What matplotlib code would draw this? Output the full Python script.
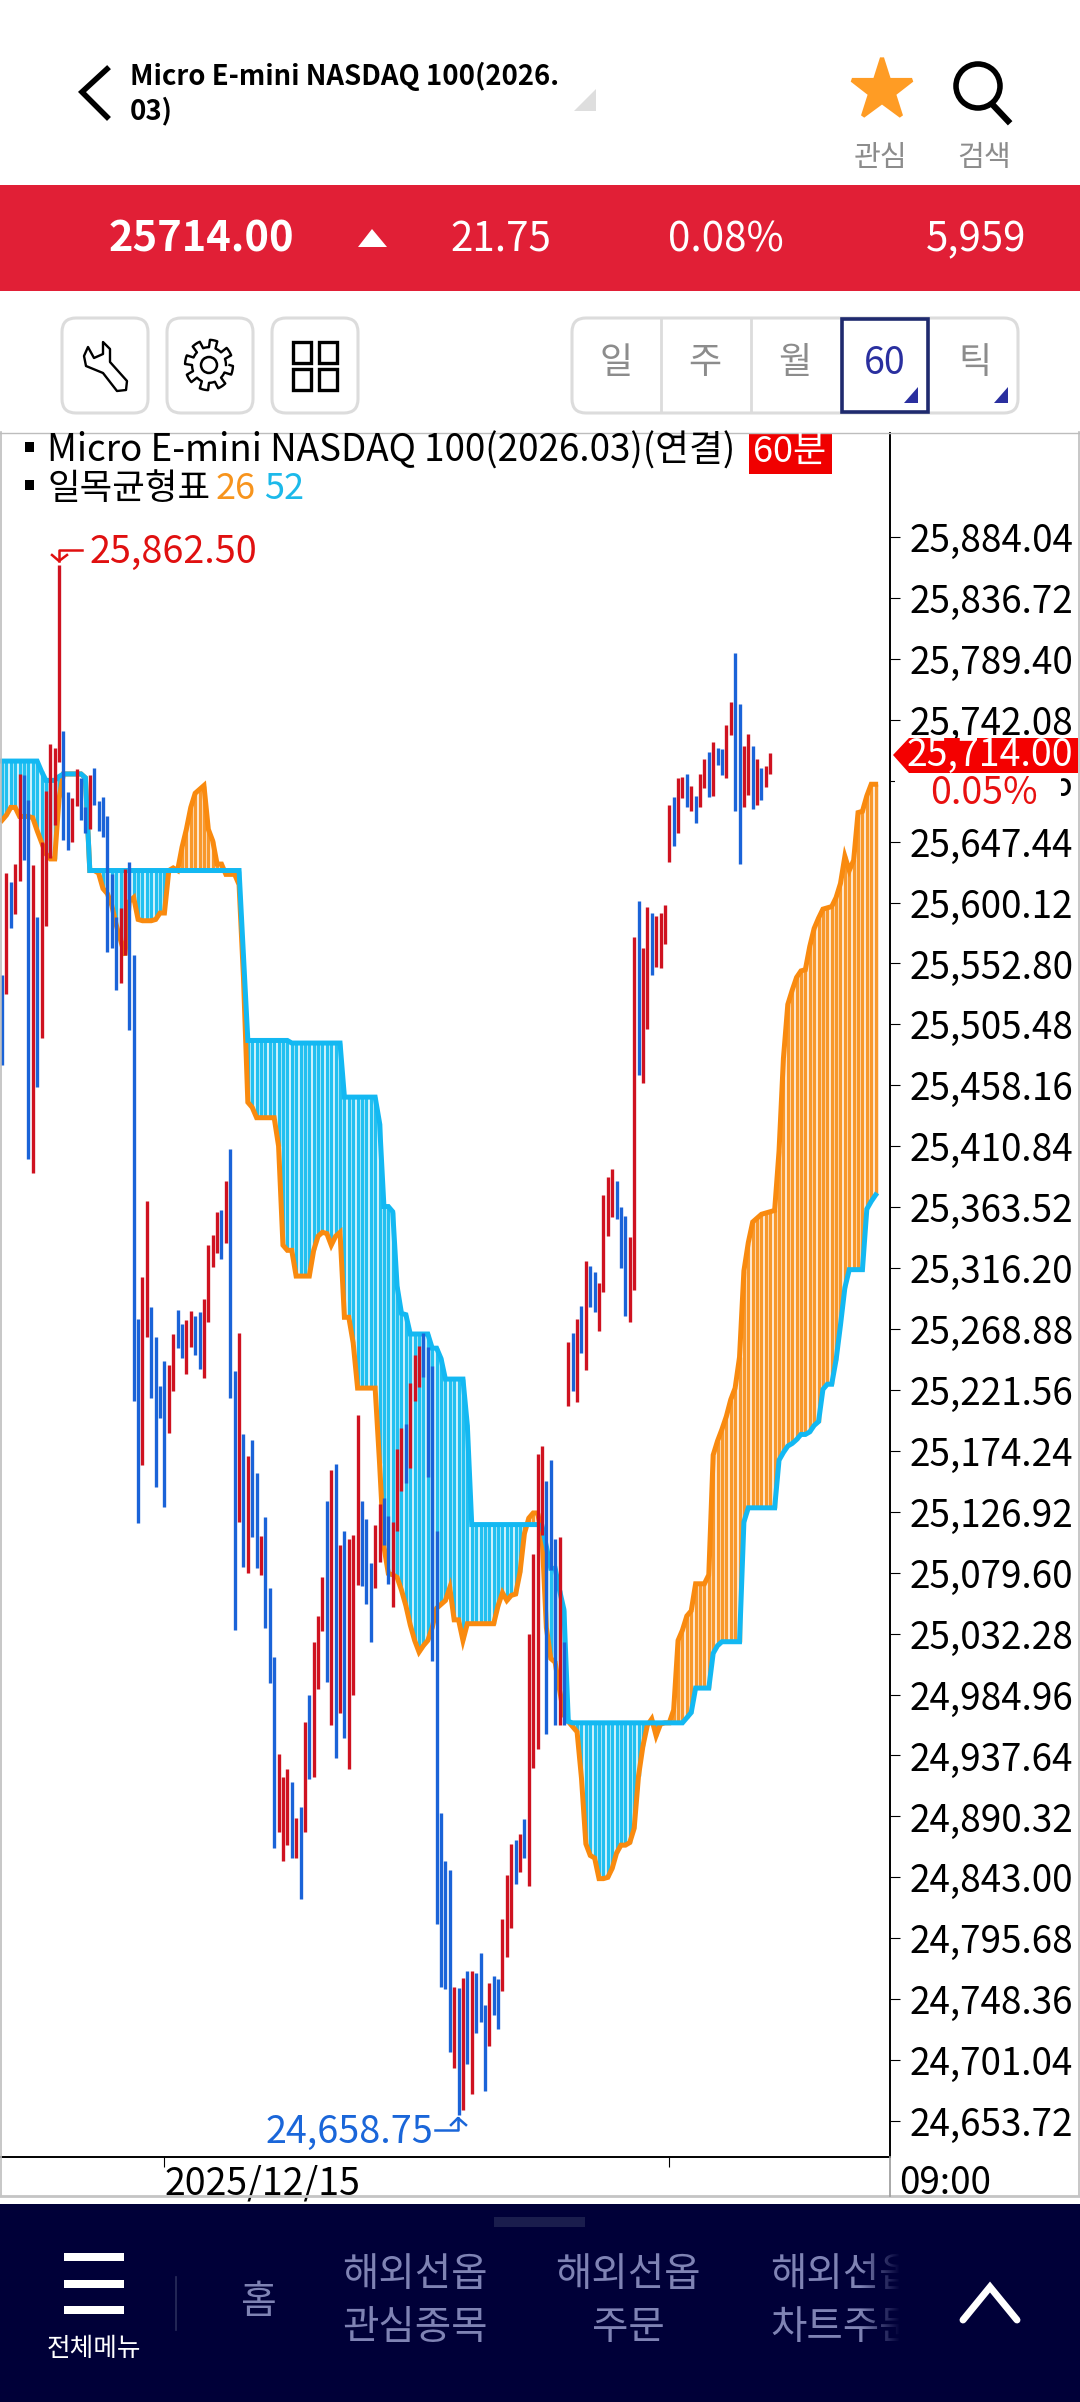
import numpy as np
import matplotlib
matplotlib.use("Agg")
import matplotlib.pyplot as plt
from matplotlib.patches import Rectangle, FancyBboxPatch, Polygon, Circle

plt.rcParams['font.family'] = ['Noto Sans CJK KR', 'DejaVu Sans']

W, H = 1080, 2402

# bars: top and bottom of each hourly bar, left to right
bar_hi = [25544,25623,25616,25630,25700,25699,25680,25629,25589,25647,
          25687,25723,25720,25862.5,25733,25686,25681,25704,25697,25674,
          25699,25705,25679,25682,25667,25622,25589,25596,25626,25632,
          25559,25277,25309,25368,25286,25263,25225,25244,25241,25265,
          25284,25273,25276,25283,25279,25282,25292,25334,25342,25360,
          25361,25384,25409,25236,25266,25187,25170,25183,25157,25108,
          25123,25068,25014,24939,24921,24927,24917,24889,24898,24964,
          24985,25026,25046,25076,25135,25159,25164,25101,25112,25106,
          25109,25202,25135,25121,25087,25117,25133,25138,25124,25119,
          25176,25192,25195,25227,25249,25256,25266,25255,25240,25112,
          24893,24856,24849,24758,24757,24765,24770,24770,24769,24784,
          24744,24761,24766,24764,24811,24845,24869,24872,24877,24888,
          25032,25094,25172,25178,25151,25167,25106,25107,25026,25259,
          25266,25277,25287,25322,25318,25313,25305,25373,25387,25393,
          25384,25364,25357,25340,25573,25601,25565,25597,25592,25590,
          25592,25598,25676,25682,25697,25698,25700,25691,25683,25700,
          25712,25717,25725,25720,25719,25738,25756,25794,25754,25722,
          25731,25722,25712,25705,25706,25716]
bar_lo = [25474,25529,25580,25591,25617,25633,25401,25390,25457,25495,
          25582,25635,25660,25709,25649,25641,25647,25675,25664,25654,
          25657,25676,25656,25651,25562,25565,25532,25538,25559,25501,
          25213,25118,25163,25263,25215,25146,25200,25131,25188,25221,
          25254,25246,25234,25255,25249,25238,25231,25274,25317,25328,
          25323,25336,25215,25035,25119,25084,25079,25107,25083,25078,
          25037,24994,24866,24878,24856,24868,24858,24858,24826,24878,
          24919,24921,24989,25034,24995,24961,24936,24971,24951,24927,
          24985,25070,25069,25055,25026,25068,25088,25101,25071,25053,
          25112,25143,25149,25161,25213,25224,25232,25154,25011,24807,
          24758,24756,24707,24695,24658.75,24662,24698,24675,24722,24731,
          24677,24712,24736,24725,24755,24781,24804,24838,24847,24858,
          24836,24928,24943,25109,24954,25082,24961,24961,24961,25209,
          25221,25212,25250,25237,25286,25282,25267,25298,25341,25356,
          25354,25316,25279,25274,25299,25466,25460,25502,25544,25550,
          25549,25568,25632,25644,25654,25681,25674,25671,25662,25674,
          25689,25682,25683,25707,25699,25697,25730,25671,25630,25674,
          25684,25673,25676,25680,25690,25700]
bar_col = ("brbrrbbrbr" "rrrrbbrrbb" "rbbbbbbrrb" "bbrrbbbbrr" "bbrrbbrrrr"
           "brbbrbrbbr" "bbbrrrbrbr" "brrrbrbrbr" "rrbbbrrbbr" "rrbrrrbbbb"
           "bbbrbrbrbb" "brbbrrrbrb" "rrrrbbbrbr" "brbrbbrrrr" "bbbrrbrrbr"
           "rrrbrrbrbr" "rbrbbrrbbr" "rbrbrr")

# ichimoku lines, 200 slots (24 slots past the last bar)
line_26 = [25664,25668,25674,25674,25667,25667,25667,25666,25656,25647,
           25638,25634,25634,25681,25700,25700,25700,25700,25700,25697,
           25625,25625,25623,25611,25607,25598,25583,25571,25559,25601,
           25604,25587,25586,25586,25586,25587,25592,25592,25625,25627,
           25625,25643,25657,25674,25685,25688,25691,25657,25648,25630,
           25630,25622,25622,25622,25614,25542,25445,25441,25433,25433,
           25433,25433,25433,25411,25334,25330,25330,25310,25310,25310,
           25310,25330,25341,25344,25343,25334,25341,25344,25278,25278,
           25258,25223,25223,25223,25223,25223,25165,25100,25079,25078,
           25076,25066,25054,25039,25027,25018,25023,25027,25037,25052,
           25055,25058,25068,25043,25043,25027,25040,25040,25040,25040,
           25040,25040,25040,25054,25064,25058,25062,25063,25080,25110,
           25122,25126,25126,25110,25037,25013,25010,24989,24969,24964,
           24960,24956,24920,24869,24860,24858,24842,24842,24843,24850,
           24862,24868,24868,24870,24881,24922,24945,24961,24966,24953,
           24962,24963,24963,24973,25027,25035,25046,25050,25071,25071,
           25071,25078,25171,25182,25191,25201,25214,25223,25247,25314,
           25336,25352,25355,25358,25359,25360,25361,25407,25479,25521,
           25532,25542,25547,25548,25566,25580,25588,25595,25596,25597,
           25604,25615,25636,25625,25633,25670,25671,25683,25692,25692]
line_52 = [25710,25710,25710,25710,25710,25710,25710,25710,25710,25702,
           25695,25695,25695,25698,25700,25700,25700,25700,25700,25697,
           25625,25625,25625,25625,25625,25625,25625,25625,25625,25625,
           25625,25625,25625,25625,25625,25625,25625,25625,25625,25625,
           25625,25625,25625,25625,25625,25625,25625,25625,25625,25625,
           25625,25625,25625,25625,25625,25559,25493,25493,25493,25493,
           25493,25493,25493,25493,25493,25493,25491,25491,25491,25491,
           25491,25491,25491,25491,25491,25491,25491,25491,25449,25449,
           25449,25449,25449,25449,25449,25449,25429,25364,25364,25360,
           25302,25281,25280,25265,25265,25265,25265,25265,25254,25254,
           25246,25230,25230,25230,25230,25230,25194,25117,25117,25117,
           25117,25117,25117,25117,25117,25117,25117,25117,25117,25117,
           25117,25117,25117,25116,25100,25083,25083,25066,25051,24964,
           24963,24963,24963,24963,24963,24963,24963,24963,24963,24963,
           24963,24963,24963,24963,24963,24963,24963,24963,24963,24963,
           24963,24963,24963,24963,24963,24963,24967,24971,24990,24990,
           24990,24990,25017,25023,25026,25026,25026,25026,25026,25119,
           25130,25130,25130,25130,25130,25130,25130,25167,25173,25178,
           25180,25183,25187,25187,25189,25194,25197,25222,25226,25226,
           25245,25272,25301,25315,25315,25315,25315,25362,25368,25373]

price_ticks = [25884.04,25836.72,25789.40,25742.08,25694.76,25647.44,25600.12,
               25552.80,25505.48,25458.16,25410.84,25363.52,25316.20,25268.88,
               25221.56,25174.24,25126.92,25079.60,25032.28,24984.96,24937.64,
               24890.32,24843.00,24795.68,24748.36,24701.04,24653.72]
date_ticks = [37, 152]
date_labels = ['2025/12/15', '']

RED = '#cf1220'
BLUE = '#1a63d8'
ORANGE = '#f98a0f'
CYAN = '#13b8f2'

fig = plt.figure(figsize=(W / 100, H / 100), dpi=100, facecolor='white')

# chart, placed in pixels
l, r, t, b = 0, 890, 432.5, 2157
ax = fig.add_axes([l / W, 1 - b / H, (r - l) / W, (b - t) / H])
slot = 4.39
ax.set_xlim(-2 / slot, (890 - 2) / slot)
ax.set_ylim(26301.13 - 0.7767 * b, 26301.13 - 0.7767 * t)

xs = np.arange(len(line_26))
y26 = np.array(line_26)
y52 = np.array(line_52)
up = y26 > y52
ax.vlines(xs[up], y52[up], y26[up], color='#f8982c', lw=2.5, zorder=1)
ax.vlines(xs[~up], y26[~up], y52[~up], color='#22c0f0', lw=2.5, zorder=1)
ax.plot(xs, y26, color=ORANGE, lw=3.6, zorder=2, solid_joinstyle='miter')
ax.plot(xs, y52, color=CYAN, lw=3.6, zorder=3, solid_joinstyle='miter')

bx = np.arange(len(bar_hi))
cols = [RED if c == 'r' else BLUE for c in bar_col]
ax.vlines(bx, bar_lo, bar_hi, colors=cols, lw=2.4, zorder=4)

ax.spines['left'].set_visible(False)
ax.spines['top'].set_visible(False)
ax.spines['right'].set_linewidth(1.4)
ax.spines['bottom'].set_linewidth(1.4)
ax.yaxis.tick_right()
ax.set_yticks(price_ticks)
ax.set_yticklabels([f'{p:,.2f}' for p in price_ticks])
ax.tick_params(axis='y', length=7, width=0.8, pad=7, labelsize=26.5)
ax.set_xticks(date_ticks)
ax.set_xticklabels(date_labels, ha='left')
ax.tick_params(axis='x', length=7, width=0.8, pad=-1.5, labelsize=27)

# everything around the chart, in pixel coordinates
ui = fig.add_axes([0, 0, 1, 1], facecolor='none')
ui.set_xlim(0, W)
ui.set_ylim(H, 0)
ui.axis('off')


def txt(x, y, s, size, color='black', ha='center', **kw):
    return ui.text(x, y, s, fontsize=size, color=color, ha=ha, va='center', **kw)


def box(x0, y0, x1, y1, fc='none', ec='#dcdcdc', lw=2.2, rad=14):
    ui.add_patch(FancyBboxPatch((x0 + rad, y0 + rad), x1 - x0 - 2 * rad, y1 - y0 - 2 * rad,
                                boxstyle=f'round,pad={rad}', fc=fc, ec=ec, lw=lw))


# header
ui.plot([107, 82, 107], [69, 92, 117], color='black', lw=4, solid_joinstyle='miter')
txt(130, 76, 'Micro E-mini NASDAQ 100(2026.', 19.8, ha='left', fontweight='bold')
txt(130, 111, '03)', 19.8, ha='left', fontweight='bold')
ui.add_patch(Polygon([(574, 111), (596, 111), (596, 89)], fc='#dedede', ec='none'))
ui.plot([882], [90], marker='*', ms=46, color='#ff9c24', mec='#ff9c24', mew=3, mfc='#ff9c24')
ui.add_patch(Circle((978, 86), 22, fc='none', ec='black', lw=4))
ui.plot([992, 1008], [104, 121], color='black', lw=4.5)
txt(881, 158, '관심', 21, '#8c8c8c')
txt(984, 158, '검색', 21, '#8c8c8c')

# quote band
ui.add_patch(Rectangle((0, 185), W, 106, fc='#e11f36', ec='none'))
txt(201, 240, '25714.00', 30, 'white', fontweight='bold')
ui.add_patch(Polygon([(358, 247), (387, 247), (372, 229)], fc='white', ec='none'))
txt(501, 240, '21.75', 29, 'white')
txt(726, 240, '0.08%', 29, 'white')
txt(976, 240, '5,959', 29, 'white')

# tool buttons
box(62, 318, 148, 413)
box(167, 318, 253, 413)
box(272, 318, 358, 413)
wrench = [(88, 347), (84, 356), (86, 366), (103, 373), (117, 391), (126, 390), (127, 381),
          (110, 362), (110, 349), (103, 342), (103, 354), (94, 358), (88, 347)]
ui.add_patch(Polygon(wrench, fc='none', ec='black', lw=1.7, joinstyle='round'))
ang = np.linspace(0, 2 * np.pi, 161)
rad = 20.5 + 3.5 * np.sign(np.sin(8 * ang))
ui.plot(209 + rad * np.cos(ang), 365 + rad * np.sin(ang) * 1.05, color='black', lw=1.7)
ui.add_patch(Circle((209, 365), 8, fc='none', ec='black', lw=1.8))
for gx in (293, 319):
    for gy in (342, 369):
        ui.add_patch(Rectangle((gx, gy), 18, 21, fc='none', ec='black', lw=2.4))

# period selector
box(572, 318, 1018, 413)
for sx in (661, 751):
    ui.plot([sx, sx], [319, 412], color='#dcdcdc', lw=2)
ui.add_patch(Rectangle((842, 319), 86, 93, fc='white', ec='#1f2a6e', lw=2.6))
for s, sx in zip(['일', '주', '월', '틱'], [616, 705, 795, 975]):
    txt(sx, 363, s, 26, '#8c8c8c')
txt(885, 364, '60', 27, '#2a2f9f')
ui.add_patch(Polygon([(904, 403), (918, 403), (918, 387)], fc='#2a2f9f', ec='none'))
ui.add_patch(Polygon([(994, 403), (1008, 403), (1008, 387)], fc='#2a2f9f', ec='none'))

# chart frame
ui.plot([0, W], [432.5, 432.5], color='#bdbdbd', lw=1)
ui.plot([0.8, 0.8], [432, 2196], color='#bdbdbd', lw=1.2)
ui.plot([1079, 1079], [432, 2196], color='#bdbdbd', lw=1.2)
ui.plot([0, W], [2196, 2196], color='#c4c4c4', lw=2)
ui.plot([890, 890], [2157, 2196], color='#9a9a9a', lw=1.2)
txt(899, 2184, '09:00', 26.5, ha='left')

# legend
ui.add_patch(Rectangle((25, 442), 9, 10, fc='black', ec='none'))
ui.add_patch(Rectangle((25, 480), 9, 10, fc='black', ec='none'))
txt(47, 451, 'Micro E-mini NASDAQ 100(2026.03)(연결)', 26.5, ha='left')
ui.add_patch(Rectangle((749, 433), 83, 41, fc='#f00000', ec='none'))
txt(790, 452, '60분', 26, 'white')
txt(47, 489, '일목균형표', 25.5, ha='left')
txt(216, 489, '26', 26, '#f7941d', ha='left')
txt(264, 489, '52', 26, '#1cb9ea', ha='left')

# high / low marks
txt(90, 552, '25,862.50', 27.2, '#e01010', ha='left')
ui.plot([82, 59, 59], [550, 550, 561], color='#e01010', lw=1.8)
ui.plot([52, 59, 67], [555, 561, 555], color='#e01010', lw=1.8)
txt(266, 2132, '24,658.75', 27.2, '#1a66d9', ha='left')
ui.plot([435, 458, 458], [2130, 2130, 2118], color='#1a66d9', lw=1.8)
ui.plot([451, 458, 466], [2125, 2118, 2125], color='#1a66d9', lw=1.8)

# current price tag
ui.add_patch(Rectangle((895, 773), 166, 50, fc='white', ec='none'))
ui.add_patch(Polygon([(893, 755), (909, 738), (1078, 738), (1078, 773), (909, 773)],
                     fc='#f40000', ec='none'))
txt(990, 755, '25,714.00', 27, 'white')
txt(984, 794, '0.05%', 27, '#e81010')

# bottom navigation
ui.add_patch(Rectangle((0, 2204), W, 198, fc='#000038', ec='none'))
ui.add_patch(Rectangle((494, 2217), 91, 10, fc='#1a1d4d', ec='none'))
for hy in (2253, 2280, 2306):
    ui.add_patch(Rectangle((64, hy), 60, 7.5, fc='white', ec='none'))
txt(94, 2349, '전체메뉴', 18.5, 'white')
ui.plot([175.5, 175.5], [2277, 2330], color='#2a2d5c', lw=1.2)
NAV = '#7f83b4'
txt(258, 2302, '홈', 28, NAV)
txt(415, 2275, '해외선옵', 28.5, NAV)
txt(415, 2328, '관심종목', 28.5, NAV)
txt(628, 2275, '해외선옵', 28.5, NAV)
txt(628, 2328, '주문', 28.5, NAV)
txt(770, 2275, '해외선옵', 28.5, NAV, ha='left')
txt(770, 2328, '차트주문', 28.5, NAV, ha='left')
fade = np.zeros((1, 40, 4))
fade[..., :3] = matplotlib.colors.to_rgb('#000038')
fade[..., 3] = np.linspace(0, 1, 40)
ui.imshow(fade, extent=(860, 900, 2360, 2250), aspect='auto', zorder=6)
ui.add_patch(Rectangle((900, 2250), 60, 110, fc='#000038', ec='none', zorder=6))
ui.set_xlim(0, W)
ui.set_ylim(H, 0)
ui.plot([963, 990, 1017], [2320, 2287, 2320], color='white', lw=5, zorder=7,
        solid_joinstyle='miter', solid_capstyle='round')

fig.savefig('out.png', dpi=100)
